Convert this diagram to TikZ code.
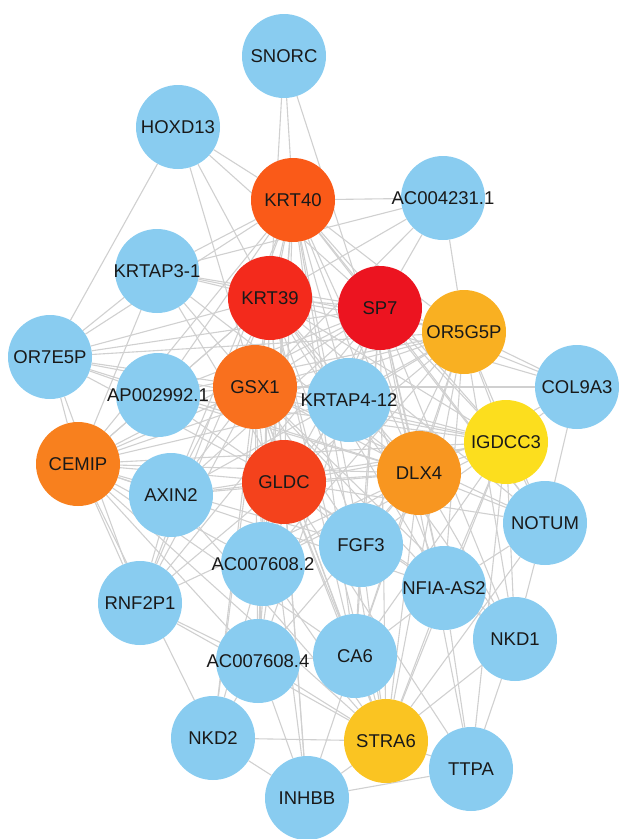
\documentclass[tikz,border=0pt]{standalone}
\usepackage{fontspec}
\setmainfont{Liberation Sans}
\usetikzlibrary{backgrounds}

\definecolor{geneblue}{RGB}{137,204,240}
\definecolor{sprd}{RGB}{236,20,32}
\definecolor{ktred}{RGB}{243,42,28}
\definecolor{glred}{RGB}{244,66,28}
\definecolor{ktorange}{RGB}{250,90,24}
\definecolor{gsorange}{RGB}{249,112,30}
\definecolor{ceorange}{RGB}{248,128,30}
\definecolor{dlorange}{RGB}{248,150,32}
\definecolor{orgold}{RGB}{249,176,34}
\definecolor{stgold}{RGB}{250,196,34}
\definecolor{igyellow}{RGB}{252,222,30}
\definecolor{linkgray}{RGB}{208,208,208}

% label may stick out of the circle
\newcommand{\genename}[1]{\makebox[0pt]{#1}}

\tikzset{
    gene/.style={circle,minimum size=84pt,inner sep=0pt,fill=#1,text=black!90,
        font=\fontsize{18.5}{20}\selectfont},
    gene/.default=geneblue,
    link/.style={draw=linkgray,line width=1.1pt},
}

\begin{document}
\begin{tikzpicture}[x=1pt,y=-1pt]

        \useasboundingbox (0,0) rectangle (619,839);

        % --- Genes ---
        \node[gene] (snorc) at (284,56) {\genename{SNORC}};
        \node[gene] (hoxd) at (178,127) {\genename{HOXD13}};
        \node[gene=ktorange] (krt40) at (293,200) {\genename{KRT40}};
        \node[gene] (ac04) at (443,198) {\genename{AC004231.1}};
        \node[gene] (krtap3) at (157,271) {\genename{KRTAP3-1}};
        \node[gene=ktred] (krt39) at (270,298) {\genename{KRT39}};
        \node[gene=sprd] (sp7) at (380,308) {\genename{SP7}};
        \node[gene=orgold] (or5g) at (464,332) {\genename{OR5G5P}};
        \node[gene] (or7e) at (50,357) {\genename{OR7E5P}};
        \node[gene] (ap02) at (158,395) {\genename{AP002992.1}};
        \node[gene=gsorange] (gsx1) at (255,387) {\genename{GSX1}};
        \node[gene] (krtap4) at (349,400) {\genename{KRTAP4-12}};
        \node[gene] (col9) at (577,387) {\genename{COL9A3}};
        \node[gene=igyellow] (igdcc) at (506,442) {\genename{IGDCC3}};
        \node[gene=ceorange] (cemip) at (78,464) {\genename{CEMIP}};
        \node[gene] (axin) at (171,495) {\genename{AXIN2}};
        \node[gene=glred] (gldc) at (284,482) {\genename{GLDC}};
        \node[gene=dlorange] (dlx4) at (419,473) {\genename{DLX4}};
        \node[gene] (notum) at (545,523) {\genename{NOTUM}};
        \node[gene] (fgf3) at (361,545) {\genename{FGF3}};
        \node[gene] (ac72) at (263,564) {\genename{AC007608.2}};
        \node[gene] (nfia) at (444,588) {\genename{NFIA-AS2}};
        \node[gene] (rnf2) at (140,603) {\genename{RNF2P1}};
        \node[gene] (nkd1) at (515,639) {\genename{NKD1}};
        \node[gene] (ac74) at (258,661) {\genename{AC007608.4}};
        \node[gene] (ca6) at (355,656) {\genename{CA6}};
        \node[gene] (nkd2) at (213,738) {\genename{NKD2}};
        \node[gene=stgold] (stra6) at (386,741) {\genename{STRA6}};
        \node[gene] (ttpa) at (471,769) {\genename{TTPA}};
        \node[gene] (inhbb) at (307,798) {\genename{INHBB}};

        % --- Interactions ---
        \begin{scope}[on background layer]
        \foreach \b in {snorc,hoxd,ac04,krtap3,krt39,sp7,or5g,or7e,ap02,gsx1,krtap4,igdcc,cemip,axin,gldc,dlx4,fgf3,ac72,nfia,rnf2,ac74,ca6,stra6,notum}
            \draw[link] (krt40) -- (\b);
        \foreach \b in {snorc,hoxd,ac04,krtap3,sp7,or5g,or7e,ap02,gsx1,krtap4,col9,igdcc,cemip,axin,gldc,dlx4,notum,fgf3,ac72,nfia,rnf2,nkd1,ac74,ca6,nkd2,stra6,inhbb}
            \draw[link] (krt39) -- (\b);
        \foreach \b in {hoxd,ac04,krtap3,or5g,or7e,ap02,gsx1,krtap4,col9,igdcc,cemip,axin,gldc,dlx4,notum,fgf3,ac72,nfia,rnf2,nkd1,ac74,ca6,stra6,ttpa}
            \draw[link] (sp7) -- (\b);
        \foreach \b in {hoxd,ac04,krtap3,or5g,or7e,ap02,krtap4,col9,igdcc,cemip,axin,gldc,dlx4,notum,fgf3,ac72,nfia,rnf2,nkd1,ac74,ca6,nkd2,stra6,inhbb}
            \draw[link] (gsx1) -- (\b);
        \foreach \b in {krtap3,or5g,or7e,ap02,krtap4,igdcc,cemip,axin,dlx4,notum,fgf3,ac72,nfia,rnf2,nkd1,ac74,ca6,nkd2,stra6,inhbb,ttpa}
            \draw[link] (gldc) -- (\b);
        \foreach \b in {or7e,krtap3,ap02,axin,krtap4,dlx4,igdcc,or5g,fgf3,ac72,rnf2,ac74,ca6,nfia,nkd2,stra6}
            \draw[link] (cemip) -- (\b);
        \foreach \b in {snorc,or5g,igdcc,col9,krtap4,notum,fgf3,ac72,nfia,nkd1,ac74,ca6,stra6,rnf2,axin,ap02,or7e,krtap3}
            \draw[link] (dlx4) -- (\b);
        \foreach \b in {ac04,col9,igdcc,krtap4,notum,fgf3,nfia,nkd1,ca6,ac72,ap02,axin,krtap3,or7e,stra6}
            \draw[link] (or5g) -- (\b);
        \foreach \b in {col9,krtap4,notum,fgf3,nfia,nkd1,ca6,ac72,ap02,axin,or7e,stra6,ttpa}
            \draw[link] (igdcc) -- (\b);
        \foreach \b in {ttpa,inhbb,nkd2,ca6,nkd1,nfia,ac74,fgf3,ac72,rnf2,axin,notum}
            \draw[link] (stra6) -- (\b);
        \foreach \a/\b in {hoxd/or7e,ac04/krtap3,krtap3/or7e,or7e/ap02,or7e/rnf2,rnf2/ac74,rnf2/axin,
                nkd2/inhbb,nkd2/ac74,inhbb/ttpa,inhbb/ca6,inhbb/ac74,ttpa/nkd1,ttpa/nfia,nkd1/notum,
                nkd1/nfia,col9/notum,notum/nfia,fgf3/ca6,ac72/ac74,ca6/nfia,ca6/ac74}
            \draw[link] (\a) -- (\b);
        \end{scope}

    \end{tikzpicture}
\end{document}
